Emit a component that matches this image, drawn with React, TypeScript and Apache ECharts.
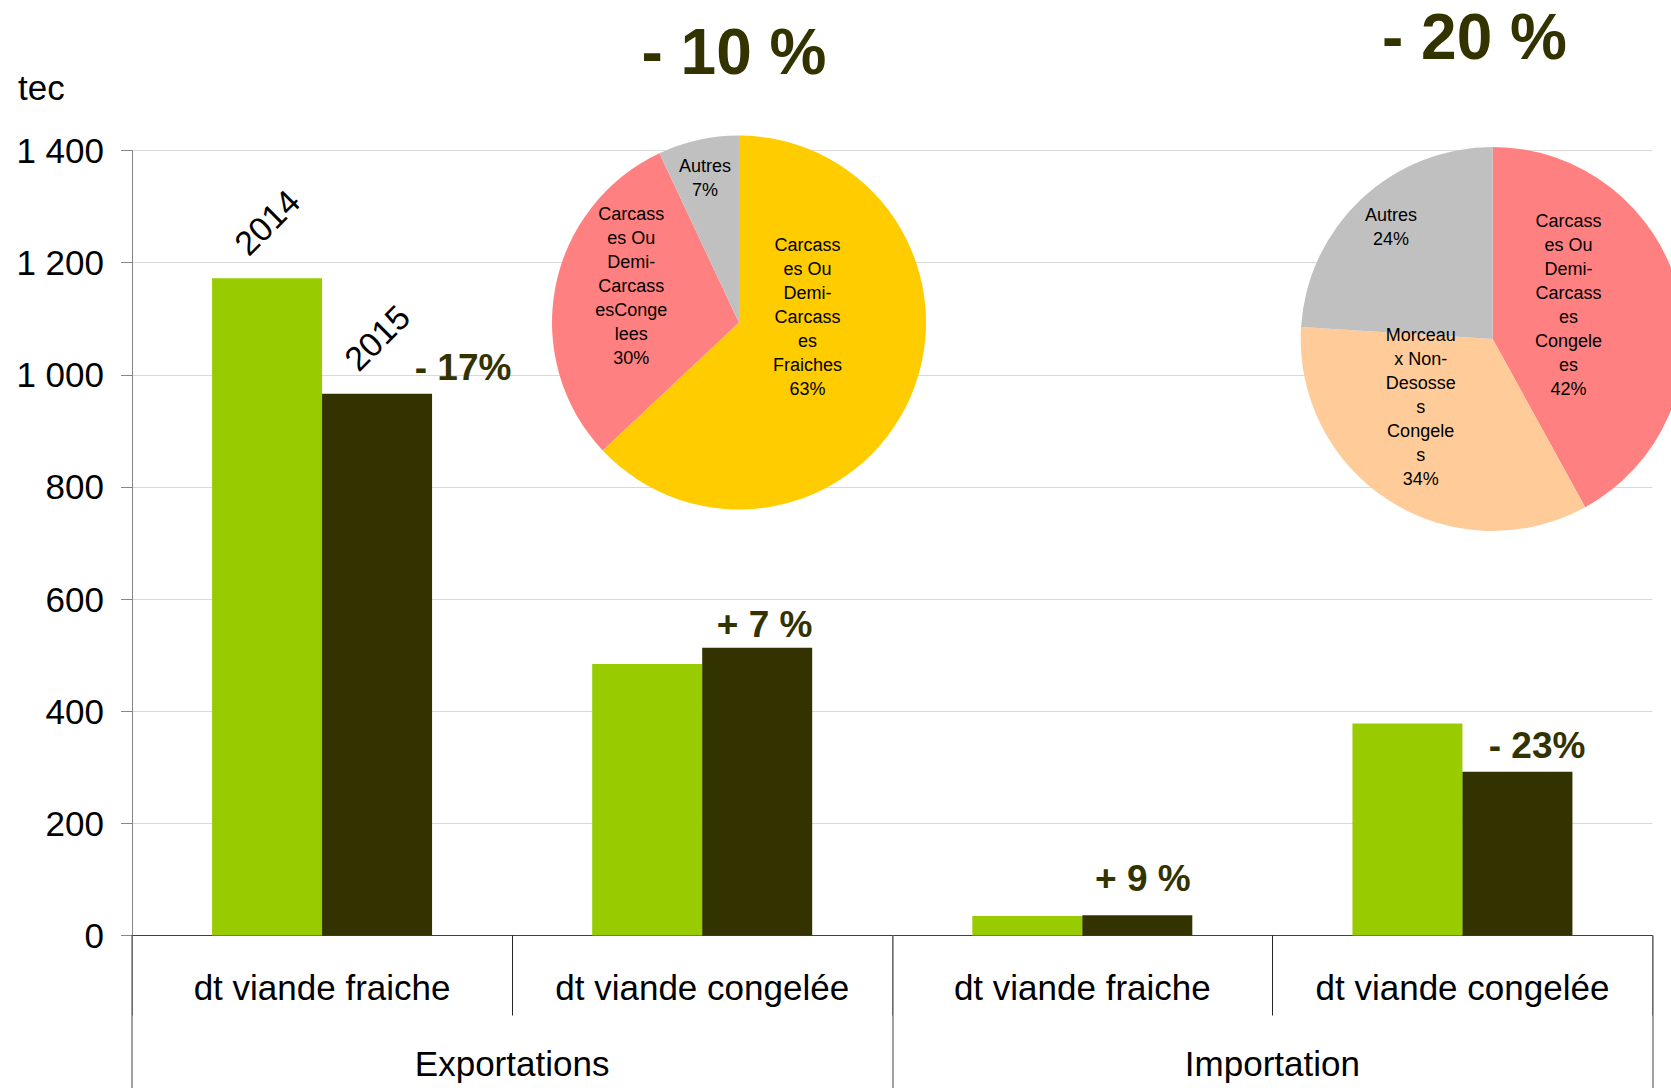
import React, { useEffect, useRef } from 'react';
import * as echarts from 'echarts';

// ---- data ----
const categories = ['dt viande fraiche', 'dt viande congelée', 'dt viande fraiche', 'dt viande congelée'];
const groups = ['Exportations', 'Importation'];
const values2014 = [1172, 484, 35, 378];
const values2015 = [966, 513, 36, 292];
const changeAnchor = [0, 0, 0, 0];
const changes = ['- 17%', '+ 7 %', '+ 9 %', '- 23%'];
const yTickLabels = ['0', '200', '400', '600', '800', '1 000', '1 200', '1 400'];
const pie1Names = ['Carcass\nes Ou\nDemi-\nCarcass\nes\nFraiches', 'Carcass\nes Ou\nDemi-\nCarcass\nesConge\nlees', 'Autres'];
const pie1Values = [63, 30, 7];
const pie2Names = ['Carcass\nes Ou\nDemi-\nCarcass\nes\nCongele\nes', 'Morceau\nx Non-\nDesosse\ns\nCongele\ns', 'Autres'];
const pie2Values = [42, 34, 24];
const pie1Title = '- 10 %';
const pie2Title = '- 20 %';
const yUnit = 'tec';

// ---- styles / layout ----
const FONT = "'Liberation Sans', Arial, sans-serif";
const GREEN = '#99CC00';
const DARK = '#333300';
const pie1Colors = ['#FFCC00', '#FF8080', '#C0C0C0'];
const pie2Colors = ['#FF8080', '#FFCC99', '#C0C0C0'];
const changeOffsets = [[86, -26], [7.5, -23.5], [5.6, -37], [19.6, -26]];
const pie1LabelShift = [[-20, -44], [-13, -18.5], [-13, -50]];
const pie2LabelShift = [[-20, -9], [-19, -16], [-34, -40]];

const yearLabel = {
  show: true,
  formatter: '{a}',
  position: [55, -56],
  rotate: 45,
  align: 'center',
  verticalAlign: 'middle',
  fontSize: 34,
  color: '#000',
  fontFamily: FONT,
};

export default function App() {
  const ref = useRef<HTMLDivElement>(null);
  useEffect(() => {
    document.body.style.margin = '0';
    const chart = echarts.init(ref.current!, null, { renderer: 'svg' });
    const pieLabel = {
      show: true,
      position: 'inside',
      formatter: '{b}\n{d}%',
      fontSize: 18,
      lineHeight: 24,
      color: '#000',
      fontFamily: FONT,
      textBorderWidth: 0,
      align: 'center',
      verticalAlign: 'middle',
    };
    chart.setOption({
      animation: false,
      textStyle: { fontFamily: FONT },
      grid: { left: 132, right: 18.5, top: 150.5, bottom: 152.5, containLabel: false, outerBoundsMode: 'none' },
      xAxis: [
        {
          type: 'category',
          data: categories,
          position: 'bottom',
          axisLine: { show: true, lineStyle: { color: '#404040', width: 1 } },
          axisTick: { show: true, interval: 0, length: 80, lineStyle: { color: '#262626', width: 1 } },
          axisLabel: { interval: 0, fontSize: 35, color: '#000', margin: 34, fontFamily: FONT },
          splitLine: { show: false },
          z: 1,
        },
        {
          type: 'category',
          data: groups,
          position: 'bottom',
          offset: 0,
          gridIndex: 0,
          axisLine: { show: false },
          axisTick: { show: true, interval: 0, length: 152.5, lineStyle: { color: '#808080', width: 1.5 } },
          axisLabel: { interval: 0, fontSize: 35, color: '#000', margin: 110, fontFamily: FONT },
          splitLine: { show: false },
          z: 2,
        },
      ],
      yAxis: {
        type: 'value',
        min: 0,
        max: 1400,
        interval: 200,
        axisLine: { show: true, lineStyle: { color: '#868686', width: 1 } },
        axisTick: { show: true, inside: false, length: 11, lineStyle: { color: '#868686' } },
        axisLabel: {
          fontSize: 35,
          color: '#000',
          margin: 28,
          fontFamily: FONT,
          formatter: (_v: number, i: number) => yTickLabels[i],
        },
        splitLine: { show: true, lineStyle: { color: '#D9D9D9', width: 1 } },
      },
      series: [
        {
          name: '2014',
          type: 'bar',
          xAxisIndex: 0,
          barWidth: 110,
          barGap: '0%',
          itemStyle: { color: GREEN },
          data: values2014.map((v, i) => (i === 0 ? { value: v, label: yearLabel } : v)),
          label: { show: false },
        },
        {
          name: '2015',
          type: 'bar',
          xAxisIndex: 0,
          stack: 'y2015',
          stackStrategy: 'all',
          barWidth: 110,
          barGap: '0%',
          itemStyle: { color: DARK },
          data: values2015.map((v, i) => (i === 0 ? { value: v, label: yearLabel } : v)),
          label: { show: false },
        },
        {
          name: 'variation',
          type: 'bar',
          xAxisIndex: 0,
          stack: 'y2015',
          stackStrategy: 'all',
          barWidth: 110,
          barGap: '0%',
          itemStyle: { color: DARK },
          data: changeAnchor.map((v, i) => ({ value: v, label: { offset: changeOffsets[i] } })),
          label: {
            show: true,
            position: 'top',
            distance: 0,
            align: 'center',
            verticalAlign: 'middle',
            formatter: (p: any) => changes[p.dataIndex],
            fontSize: 37,
            fontWeight: 'bold',
            color: DARK,
            fontFamily: FONT,
          },
        },
        {
          name: 'pie2014',
          type: 'pie',
          center: [739, 322.5],
          radius: 187,
          startAngle: 90,
          clockwise: true,
          avoidLabelOverlap: false,
          percentPrecision: 0,
          itemStyle: { borderWidth: 0 },
          label: pieLabel,
          labelLine: { show: false },
          labelLayout: (p: any) => ({ dx: pie1LabelShift[p.dataIndex][0], dy: pie1LabelShift[p.dataIndex][1] }),
          emphasis: { disabled: true },
          data: pie1Values.map((v, i) => ({ name: pie1Names[i], value: v, itemStyle: { color: pie1Colors[i] } })),
          z: 5,
        },
        {
          name: 'pie2015',
          type: 'pie',
          center: [1492.7, 339],
          radius: 192,
          startAngle: 90,
          clockwise: true,
          avoidLabelOverlap: false,
          percentPrecision: 0,
          itemStyle: { borderWidth: 0 },
          label: pieLabel,
          labelLine: { show: false },
          labelLayout: (p: any) => ({ dx: pie2LabelShift[p.dataIndex][0], dy: pie2LabelShift[p.dataIndex][1] }),
          emphasis: { disabled: true },
          data: pie2Values.map((v, i) => ({ name: pie2Names[i], value: v, itemStyle: { color: pie2Colors[i] } })),
          z: 5,
        },
      ],
      graphic: [
        {
          type: 'text',
          x: 18,
          y: 87.5,
          style: { text: yUnit, fontSize: 35, fontFamily: FONT, fill: '#000', align: 'left', verticalAlign: 'middle' },
        },
        {
          type: 'text',
          x: 734,
          y: 51.5,
          style: { text: pie1Title, fontSize: 64, fontWeight: 'bold', fontFamily: FONT, fill: DARK, align: 'center', verticalAlign: 'middle' },
        },
        {
          type: 'text',
          x: 1474.5,
          y: 36.5,
          style: { text: pie2Title, fontSize: 64, fontWeight: 'bold', fontFamily: FONT, fill: DARK, align: 'center', verticalAlign: 'middle' },
        },
      ],
    });
    return () => chart.dispose();
  }, []);
  return <div ref={ref} style={{ width: 1671, height: 1088 }} />;
}
